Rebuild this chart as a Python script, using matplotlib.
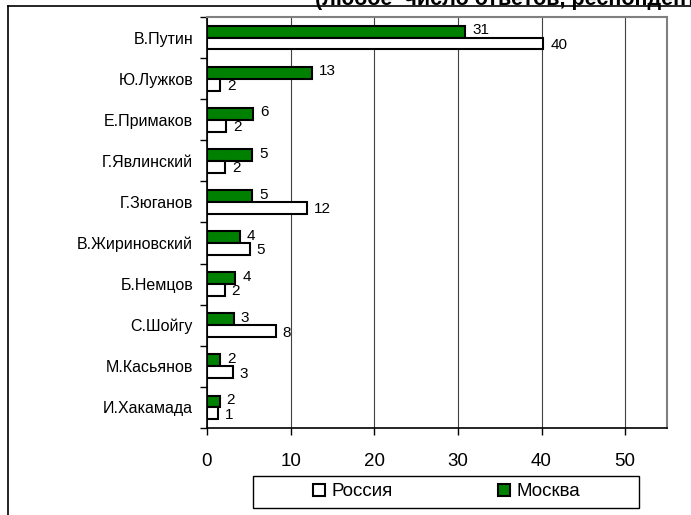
import numpy as np
import matplotlib.pyplot as plt
from matplotlib.lines import Line2D
from matplotlib.patches import Rectangle, Patch

plt.rcParams['font.family'] = ['Liberation Sans', 'DejaVu Sans']

# data
politicians = ['В.Путин', 'Ю.Лужков', 'Е.Примаков', 'Г.Явлинский', 'Г.Зюганов',
               'В.Жириновский', 'Б.Немцов', 'С.Шойгу', 'М.Касьянов', 'И.Хакамада']
russia = [40.2, 1.6, 2.3, 2.2, 12.0, 5.1, 2.1, 8.2, 3.1, 1.3]
moscow = [30.9, 12.5, 5.5, 5.4, 5.4, 3.9, 3.4, 3.2, 1.6, 1.5]
russia_labels = [40, 2, 2, 2, 12, 5, 2, 8, 3, 1]
moscow_labels = [31, 13, 6, 5, 5, 4, 4, 3, 2, 2]
x_ticks = [0, 10, 20, 30, 40, 50]

green = '#008000'

fig = plt.figure(figsize=(6.91, 5.15), dpi=100)
ax = fig.add_axes([207 / 691, 1 - 428 / 515, 460 / 691, 411 / 515])

y = np.arange(len(politicians))
h = 0.29
ax.barh(y - h / 2, moscow, height=h, color=green, edgecolor='black', linewidth=1.5, zorder=3)
ax.barh(y + h / 2, russia, height=h, color='white', edgecolor='black', linewidth=1.5, zorder=3)

for i in range(len(politicians)):
    ax.annotate(str(moscow_labels[i]), (moscow[i], y[i] - h / 2), xytext=(5, 1),
                textcoords='offset points', va='center', ha='left', fontsize=11, zorder=4)
    ax.annotate(str(russia_labels[i]), (russia[i], y[i] + h / 2), xytext=(5, -1),
                textcoords='offset points', va='center', ha='left', fontsize=11, zorder=4)

ax.set_xlim(0, 55)
ax.set_ylim(len(politicians) - 0.5, -0.5)
ax.set_xticks(x_ticks)
ax.tick_params(axis='x', length=5, width=1, pad=13, labelsize=13.5, direction='out')

# category boundaries as ticks, names at centres
ax.set_yticks(np.arange(-0.5, len(politicians), 1.0))
ax.set_yticklabels([])
ax.set_yticks(y, minor=True)
ax.set_yticklabels(politicians, minor=True)
ax.tick_params(axis='y', which='major', length=5, width=1, direction='out')
ax.tick_params(axis='y', which='minor', length=0, pad=10, labelsize=11.5)

ax.grid(axis='x', color='#404040', linewidth=0.8, zorder=0)
ax.set_axisbelow(True)
for s in ['top', 'right']:
    ax.spines[s].set_color('#808080')
    ax.spines[s].set_linewidth(1.5)
for s in ['left', 'bottom']:
    ax.spines[s].set_color('black')
    ax.spines[s].set_linewidth(1.2)

# legend
handles = [Patch(facecolor='white', edgecolor='black', linewidth=1.5, label='Россия'),
           Patch(facecolor=green, edgecolor='black', linewidth=1.5, label='Москва')]
fig.legend(handles=handles, loc='center', bbox_to_anchor=(447 / 691, 1 - 492 / 515),
           ncol=2, frameon=False, fontsize=13.5, handlelength=0.65, handleheight=0.65,
           handletextpad=0.35, columnspacing=5.6)
fig.patches.append(Rectangle((253 / 691, 1 - 508 / 515), 386 / 691, 32 / 515,
                             transform=fig.transFigure, fill=False, edgecolor='black',
                             linewidth=1.0))

# outer frame (cropped)
fig.add_artist(Line2D([8 / 691, 8 / 691], [0, 1 - 6 / 515], color='black', linewidth=1.2))
fig.add_artist(Line2D([8 / 691, 1], [1 - 6 / 515, 1 - 6 / 515], color='black', linewidth=1.2))
fig.text(315 / 691, 1 - 5 / 515, '(любое  число ответов, респондентов в %)',
         fontsize=15.5, fontweight='bold', va='baseline', ha='left')

fig.savefig('out.png', dpi=100)
